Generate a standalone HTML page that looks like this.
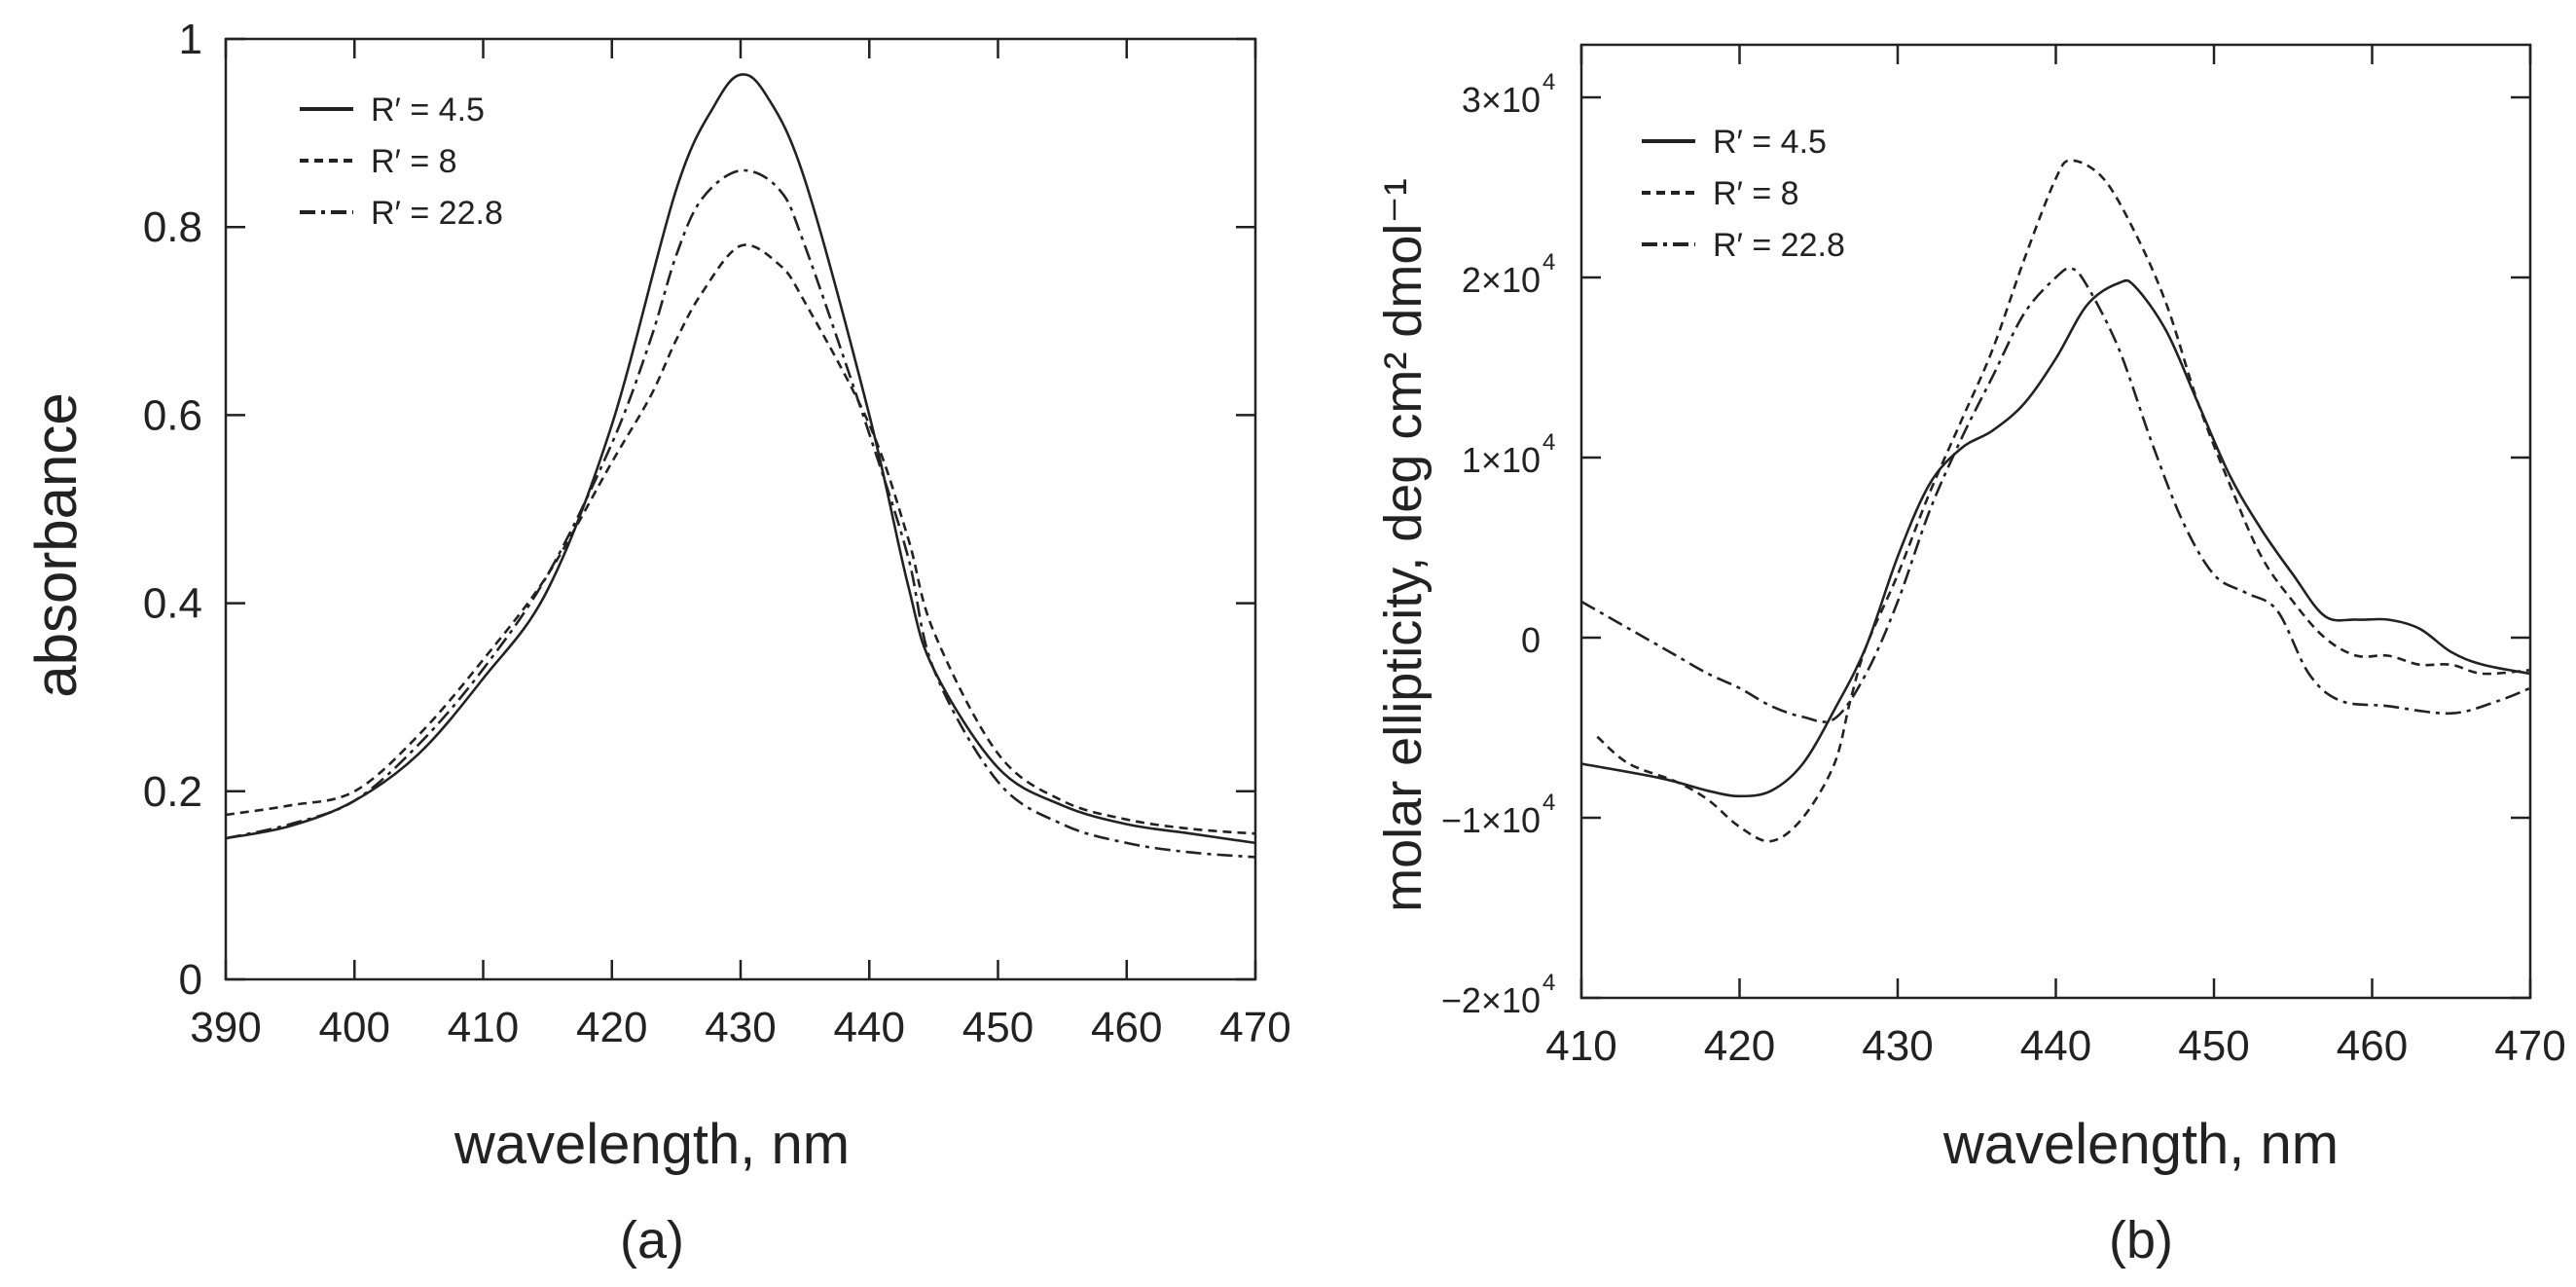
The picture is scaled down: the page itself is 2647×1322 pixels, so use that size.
<!DOCTYPE html>
<html><head><meta charset="utf-8"><style>
html,body{margin:0;padding:0;background:#fff;}
svg{display:block;font-family:"Liberation Sans Narrow","Liberation Sans",sans-serif;}
</style></head><body>
<svg id="fig" width="2647" height="1322" viewBox="0 0 2647 1322">
<g id="pa"></g>
<g id="pb"></g>
</svg>
<script>
// Panel (a) data: absorbance
const aX45=[390,395,400,405,410,415,420,425,428,430,432,435,440,443,445,450,455,460,465,470];
const aY45=[0.15,0.163,0.19,0.24,0.32,0.414,0.59,0.84,0.93,0.962,0.94,0.85,0.6,0.42,0.33,0.225,0.185,0.165,0.155,0.145];
const aX8=[390,395,400,405,410,415,420,423,425,427,430,433,435,440,443,445,450,455,460,465,470];
const aY8=[0.175,0.185,0.2,0.26,0.34,0.43,0.55,0.62,0.68,0.73,0.78,0.76,0.72,0.59,0.47,0.37,0.24,0.19,0.17,0.16,0.155];
const aX228=[390,395,400,405,410,415,420,423,425,427,430,433,435,440,443,445,450,455,460,465,470];
const aY228=[0.15,0.165,0.19,0.25,0.33,0.43,0.57,0.68,0.77,0.83,0.86,0.84,0.78,0.58,0.45,0.33,0.21,0.165,0.145,0.135,0.13];
const aXTicks=[390,400,410,420,430,440,450,460,470];
const aYTicks=[0,0.2,0.4,0.6,0.8,1];
const aYLabels=["0","0.2","0.4","0.6","0.8","1"];
// Panel (b) data: molar ellipticity (x1e4)
const bX45=[410,415,418,420,422,424,426,428,430,432,434,436,438,440,442,444,445,447,449,451,453,455,457,459,461,463,465,467,470];
const bY45=[-0.7,-0.78,-0.85,-0.88,-0.85,-0.7,-0.4,-0.05,0.45,0.85,1.05,1.15,1.3,1.55,1.85,1.97,1.95,1.7,1.3,0.9,0.6,0.35,0.12,0.1,0.1,0.05,-0.08,-0.15,-0.2];
const bX8=[411,413,416,418,420,422,424,426,427,428,430,432,434,436,438,440,441,443,445,447,449,451,453,455,457,459,461,463,465,467,470];
const bY8=[-0.55,-0.7,-0.8,-0.9,-1.05,-1.13,-1.0,-0.7,-0.35,-0.05,0.35,0.8,1.2,1.6,2.1,2.55,2.65,2.55,2.25,1.85,1.3,0.85,0.45,0.2,0.0,-0.1,-0.1,-0.15,-0.15,-0.2,-0.18];
const bX228=[410,412,414,416,418,420,422,424,426,428,430,432,434,436,438,440,441,442,444,446,448,450,452,454,456,458,461,465,468,470];
const bY228=[0.2,0.1,0.0,-0.1,-0.2,-0.28,-0.38,-0.44,-0.45,-0.2,0.2,0.7,1.1,1.45,1.8,2.0,2.05,1.95,1.6,1.1,0.65,0.35,0.25,0.15,-0.2,-0.35,-0.38,-0.42,-0.35,-0.28];
const bXTicks=[410,420,430,440,450,460,470];
const bYTicks=[-2,-1,0,1,2,3];
const bYLabels=["\u22122\u00d710","\u22121\u00d710","0","1\u00d710","2\u00d710","3\u00d710"];

const NS="http://www.w3.org/2000/svg";
function mk(parent,tag,attrs,text){const e=document.createElementNS(NS,tag);for(const k in attrs)e.setAttribute(k,attrs[k]);if(text!==undefined)e.textContent=text;parent.appendChild(e);return e;}
const styles={s45:"",s8:"9 6",s228:"16 6 4 6"};
function smooth(pts){
  let d='M'+pts[0][0].toFixed(1)+' '+pts[0][1].toFixed(1);
  for(let i=0;i<pts.length-1;i++){
    const p0=pts[Math.max(0,i-1)],p1=pts[i],p2=pts[i+1],p3=pts[Math.min(pts.length-1,i+2)];
    const c1x=p1[0]+(p2[0]-p0[0])/6,c1y=p1[1]+(p2[1]-p0[1])/6;
    const c2x=p2[0]-(p3[0]-p1[0])/6,c2y=p2[1]-(p3[1]-p1[1])/6;
    d+=` C${c1x.toFixed(1)} ${c1y.toFixed(1)} ${c2x.toFixed(1)} ${c2y.toFixed(1)} ${p2[0].toFixed(1)} ${p2[1].toFixed(1)}`;
  }
  return d;
}

function panel(g,o){
  const sx=v=>o.x0+(v-o.xmin)/(o.xmax-o.xmin)*(o.x1-o.x0);
  const sy=v=>o.yb+(v-o.ymin)/(o.ymax-o.ymin)*(o.ypx-o.yb);
  const frame=mk(g,'rect',{x:o.x0,y:o.top,width:o.x1-o.x0,height:o.bottom-o.top,fill:'none',stroke:'#222','stroke-width':2.5});
  
  o.xt.forEach(t=>{
    const x=sx(t);
    const a=mk(g,'line',{x1:x,x2:x,y1:o.bottom,y2:o.bottom-20,stroke:'#222','stroke-width':2.5});
    
    const b=mk(g,'line',{x1:x,x2:x,y1:o.top,y2:o.top+20,stroke:'#222','stroke-width':2.5});
    
    const l=mk(g,'text',{x:x,y:o.bottom+64,'font-size':44,'text-anchor':'middle',fill:'#222'},String(t));
    
  });
  o.yticks.forEach((t,i)=>{
    const y=sy(t);
    const a=mk(g,'line',{x1:o.x0,x2:o.x0+20,y1:y,y2:y,stroke:'#222','stroke-width':2.5});
    
    const b=mk(g,'line',{x1:o.x1,x2:o.x1-20,y1:y,y2:y,stroke:'#222','stroke-width':2.5});
    
    const l=mk(g,'text',{x:o.x0-(o.sup?42:24),y:y+15,'font-size':o.sup?36:44,'text-anchor':'end',fill:'#222'},o.yl[i]);
    
    if(o.sup&&o.yl[i]!=="0"){
      const s=mk(g,'text',{x:o.x0-40,y:y-8,'font-size':24,fill:'#222'},'4');
      
    }
  });
  o.series.forEach(se=>{
    const d=smooth(se.x.map((v,i)=>[sx(v),sy(se.y[i])]));
    const p=mk(g,'path',{d:d,fill:'none',stroke:'#222','stroke-width':2.6,'stroke-dasharray':se.dash});
    
  });
  o.legend.forEach((lg,i)=>{
    const y=o.ly+i*o.lgap;
    const l=mk(g,'line',{x1:o.lx,x2:o.lx+55,y1:y,y2:y,stroke:'#222','stroke-width':4,'stroke-dasharray':lg.dash});
    
    const t=mk(g,'text',{x:o.lx+73,y:y+12,'font-size':34,fill:'#222'},lg.label);
    
  });
  const xl=mk(g,'text',{x:o.xlx,y:1195,'font-size':58,'text-anchor':'middle',fill:'#222'},'wavelength, nm');
  
  const pl=mk(g,'text',{x:o.xlx,y:1292,'font-size':54,'text-anchor':'middle',fill:'#222'},o.tag);
  
  const yl=mk(g,'text',{x:0,y:0,'font-size':o.ylfs,'text-anchor':'middle',fill:'#222',transform:`translate(${o.ylx},${o.yly}) rotate(-90)`},o.ytitle);
  
}
const leg=[{label:"R\u2032 = 4.5",dash:styles.s45},{label:"R\u2032 = 8",dash:styles.s8},{label:"R\u2032 = 22.8",dash:styles.s228}];
panel(document.getElementById('pa'),{x0:232,x1:1290,top:40,bottom:1006,xmin:390,xmax:470,ymin:0,ymax:1,yb:1006,ypx:40,
  xt:aXTicks,yticks:aYTicks,yl:aYLabels,sup:false,
  series:[{x:aX45,y:aY45,dash:styles.s45,name:'line-r4-5'},{x:aX8,y:aY8,dash:styles.s8,name:'line-r8'},{x:aX228,y:aY228,dash:styles.s228,name:'line-r22-8'}],
  legend:leg,lx:308,ly:112,lgap:53,xlx:670,tag:'(a)',ytitle:'absorbance',ylx:78,yly:560,ylfs:60});
panel(document.getElementById('pb'),{x0:1625,x1:2600,top:46,bottom:1025,xmin:410,xmax:470,ymin:-2,ymax:3,yb:1025,ypx:100,
  xt:bXTicks,yticks:bYTicks,yl:bYLabels,sup:true,
  series:[{x:bX45,y:bY45,dash:styles.s45,name:'line-r4-5'},{x:bX8,y:bY8,dash:styles.s8,name:'line-r8'},{x:bX228,y:bY228,dash:styles.s228,name:'line-r22-8'}],
  legend:leg,lx:1687,ly:145,lgap:53,xlx:2200,tag:'(b)',ytitle:'molar ellipticity, deg cm\u00b2 dmol\u207b\u00b9',ylx:1460,yly:560,ylfs:54});
</script>
</body></html>
